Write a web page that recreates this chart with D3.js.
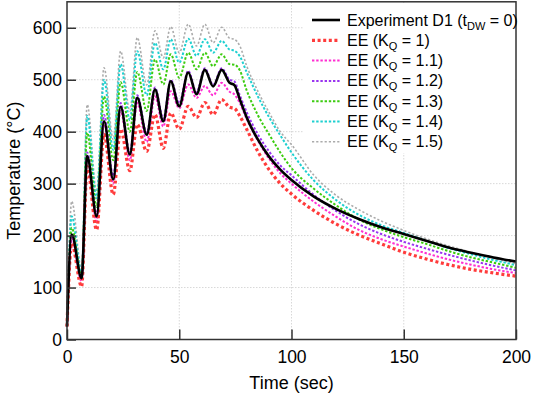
<!DOCTYPE html>
<html>
<head>
<meta charset="utf-8">
<script src="https://cdn.jsdelivr.net/npm/d3@7"></script>
<style>
  body { margin: 0; background: #fff; }
  svg { font-family: Arial, "Liberation Sans", sans-serif; }
</style>
</head>
<body>
<svg id="chart" width="533" height="397"></svg>
<script>
// time points (sec) shared by every series
const times = [0, 2.1, 6.5, 9.0, 13.2, 16.5, 20.6, 23.9, 28.0, 31.3, 35.5, 39.2, 42.9, 46.2, 50.0,
  54.0, 57.7, 61.4, 65.1, 68.9, 72.4, 74.5, 77, 80, 85, 90, 95, 100, 110, 120, 130, 140, 150,
  160, 170, 180, 190, 200]

// measured temperature, experiment D1
const expD1 = [25, 202, 118, 353, 237, 420, 308, 448, 356, 465, 394, 481, 420, 497, 449,
  514, 472, 519, 487, 519, 494, 490, 462, 428, 385, 352, 327, 307, 275, 251, 232, 216, 203,
  190, 177, 167, 158, 150]

// EE predictions for each K_Q
const eeK10 = [25, 185, 102, 333, 211, 395, 279, 405, 325, 414, 362, 433, 368, 436, 405,
  449, 427, 456, 433, 462, 447, 445, 430, 405, 362, 327, 300, 280, 248, 222, 201, 184, 168,
  155, 144, 135, 128, 122]
const eeK11 = [25, 195, 112, 345, 228, 415, 300, 440, 345, 455, 380, 468, 410, 478, 445,
  491, 465, 488, 470, 494, 477, 472, 455, 425, 383, 348, 320, 300, 265, 236, 211, 193, 179,
  166, 154, 144, 135, 128]
const eeK12 = [25, 200, 118, 360, 240, 432, 315, 455, 360, 470, 398, 485, 425, 500, 455,
  517, 476, 522, 490, 522, 500, 497, 470, 438, 395, 362, 335, 316, 278, 247, 222, 203, 188,
  175, 163, 152, 142, 133]
const eeK13 = [25, 215, 122, 398, 255, 468, 345, 495, 400, 515, 440, 539, 491, 549, 504,
  552, 520, 552, 526, 549, 530, 529, 518, 480, 432, 395, 360, 330, 290, 258, 231, 212, 197,
  184, 170, 158, 148, 138]
const eeK14 = [25, 237, 128, 430, 272, 500, 365, 530, 422, 555, 470, 571, 520, 578, 533,
  579, 546, 578, 552, 575, 558, 556, 545, 515, 468, 428, 393, 360, 306, 268, 240, 220, 205,
  190, 176, 164, 153, 143]
const eeK15 = [25, 266, 134, 452, 285, 523, 385, 555, 440, 581, 490, 594, 542, 602, 552,
  607, 565, 607, 571, 601, 580, 578, 565, 527, 478, 437, 400, 375, 316, 277, 250, 228, 210,
  194, 180, 168, 156, 146]

const xTicks = [0, 50, 100, 150, 200]
const yTicks = [0, 100, 200, 300, 400, 500, 600]

const eeSeries = [
  { kq: '1', values: eeK10, color: '#ff3b3b', width: 3.2, dash: '3,2.6' },
  { kq: '1.1', values: eeK11, color: '#ff2ed2', width: 2, dash: '2.4,1.8' },
  { kq: '1.2', values: eeK12, color: '#9a35f0', width: 2, dash: '2.4,1.8' },
  { kq: '1.3', values: eeK13, color: '#3ccc10', width: 2, dash: '2.4,1.8' },
  { kq: '1.4', values: eeK14, color: '#1ed0d0', width: 2, dash: '2.4,1.8' },
  { kq: '1.5', values: eeK15, color: '#ababab', width: 1.6, dash: '2.2,2' }
]

const svg = d3.select('#chart')
const x = d3.scaleLinear().domain([0, 200]).range([67, 516])
const y = d3.scaleLinear().domain([0, 650]).range([339.5, 1.8])

// grid
const grid = svg.append('g').attr('class', 'grid')
grid.selectAll('.gx')
  .data([50, 100, 150])
  .enter()
  .append('line')
  .attr('x1', d => x(d)).attr('x2', d => x(d))
  .attr('y1', y(0)).attr('y2', y(650))
  .attr('stroke', '#d8d8d8').attr('stroke-width', 1).attr('stroke-dasharray', '1.5,1.5')
grid.selectAll('.gy')
  .data(yTicks.slice(1))
  .enter()
  .append('line')
  .attr('x1', x(0)).attr('x2', x(200))
  .attr('y1', d => y(d)).attr('y2', d => y(d))
  .attr('stroke', '#d8d8d8').attr('stroke-width', 1).attr('stroke-dasharray', '1.5,1.5')

// legend background hides grid behind it
svg.append('rect')
  .attr('x', 304).attr('y', 3).attr('width', 211).attr('height', 150)
  .attr('fill', '#fff')

const line = vals => d3.line()
  .x((d, i) => x(times[i]))
  .y(d => y(d))
  .curve(d3.curveMonotoneX)(vals)

const plot = svg.append('g')
eeSeries.slice().reverse().forEach(s => {
  plot.append('path')
    .attr('d', line(s.values))
    .attr('fill', 'none')
    .attr('stroke', s.color)
    .attr('stroke-width', s.width)
    .attr('stroke-dasharray', s.dash)
})
plot.append('path')
  .attr('d', line(expD1))
  .attr('fill', 'none')
  .attr('stroke', '#000')
  .attr('stroke-width', 2.6)
  .attr('stroke-linejoin', 'round')

// axes (ticks inward)
const xAxis = svg.append('g').attr('transform', `translate(0,${y(0)})`)
  .call(d3.axisBottom(x).tickValues(xTicks).tickSizeInner(-10).tickSizeOuter(0).tickPadding(11))
const yAxis = svg.append('g').attr('transform', `translate(${x(0)},0)`)
  .call(d3.axisLeft(y).tickValues(yTicks).tickSizeInner(-9).tickSizeOuter(0).tickPadding(5))
;[xAxis, yAxis].forEach(a => {
  a.select('.domain').remove()
  a.selectAll('line').attr('stroke', '#333').attr('stroke-width', 1.5)
  a.selectAll('text').attr('fill', '#000').style('font-size', '17.5px')
    .style('font-family', 'Arial, "Liberation Sans", sans-serif')
})

// frame
svg.append('rect')
  .attr('x', x(0)).attr('y', y(650))
  .attr('width', x(200) - x(0)).attr('height', y(0) - y(650))
  .attr('fill', 'none').attr('stroke', '#333').attr('stroke-width', 1.5)

// axis titles
svg.append('text')
  .attr('x', (x(0) + x(200)) / 2).attr('y', 389)
  .attr('text-anchor', 'middle').style('font-size', '18px')
  .text('Time (sec)')
svg.append('text')
  .attr('transform', `translate(20,${(y(0) + y(650)) / 2}) rotate(-90)`)
  .attr('text-anchor', 'middle').style('font-size', '18px')
  .text('Temperature (°C)')

// legend
const legend = svg.append('g')
const rowY = i => 20 + i * 20.3
legend.append('line')
  .attr('x1', 312).attr('x2', 340).attr('y1', rowY(0)).attr('y2', rowY(0))
  .attr('stroke', '#000').attr('stroke-width', 2.6)
const t0 = legend.append('text').attr('x', 347).attr('y', rowY(0) + 5.5).style('font-size', '16px')
t0.append('tspan').text('Experiment D1 (t')
t0.append('tspan').attr('dy', 4).style('font-size', '11px').text('DW')
t0.append('tspan').attr('dy', -4).text(' = 0)')

eeSeries.forEach((s, i) => {
  const ry = rowY(i + 1)
  legend.append('line')
    .attr('x1', 312).attr('x2', 340).attr('y1', ry).attr('y2', ry)
    .attr('stroke', s.color).attr('stroke-width', s.width).attr('stroke-dasharray', s.dash)
  const t = legend.append('text').attr('x', 347).attr('y', ry + 5.5).style('font-size', '16px')
  t.append('tspan').text('EE (K')
  t.append('tspan').attr('dy', 4).style('font-size', '11px').text('Q')
  t.append('tspan').attr('dy', -4).text(` = ${s.kq})`)
})
</script>
</body>
</html>
